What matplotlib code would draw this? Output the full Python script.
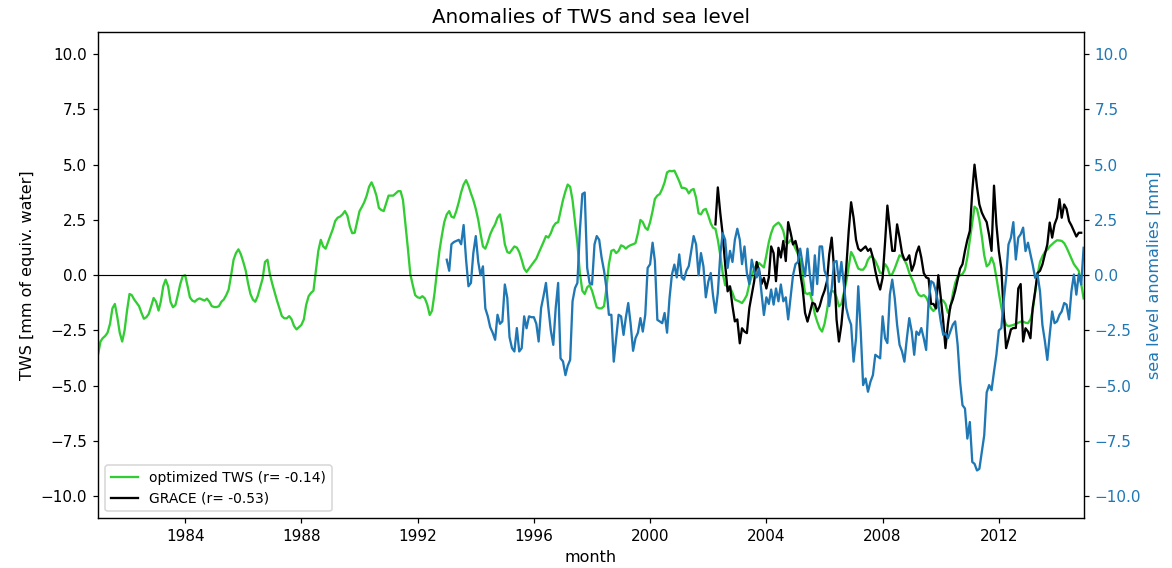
import matplotlib
matplotlib.use('Agg')
import matplotlib.pyplot as plt
import matplotlib.dates as mdates
from matplotlib.ticker import MultipleLocator
import pandas as pd

# ---------------- data (monthly anomalies) ----------------
tws_start = '1981-01-01'
sea_start = '1993-01-01'
grace_start = '2002-04-01'

tws_label = 'optimized TWS (r= -0.14)'
grace_label = 'GRACE (r= -0.53)'

# optimized TWS [mm equiv. water], Jan 1981 - Dec 2014
tws = [
    -3.6, -3.0, -2.85, -2.75, -2.6, -2.2, -1.5, -1.3, -1.9, -2.6, -3.0, -2.5,      # 1981
    -1.6, -0.85, -0.9, -1.1, -1.25, -1.4, -1.7, -1.97, -1.9, -1.75, -1.4, -1.03,   # 1982
    -1.2, -1.6, -1.2, -0.5, -0.2, -0.5, -1.2, -1.45, -1.35, -0.9, -0.4, -0.05,     # 1983
    0.0, -0.5, -1.0, -1.15, -1.2, -1.1, -1.05, -1.1, -1.15, -1.06, -1.2, -1.4,     # 1984
    -1.44, -1.44, -1.4, -1.2, -1.1, -0.9, -0.65, 0.0, 0.7, 1.0, 1.17, 0.95,        # 1985
    0.6, 0.2, -0.35, -0.85, -1.1, -1.2, -0.95, -0.55, -0.15, 0.6, 0.7, 0.05,       # 1986
    -0.4, -0.8, -1.15, -1.5, -1.85, -1.95, -1.95, -1.85, -2.0, -2.3, -2.45, -2.35, # 1987
    -2.25, -2.0, -1.35, -0.95, -0.8, -0.7, 0.2, 1.1, 1.6, 1.3, 1.2, 1.5,           # 1988
    1.8, 2.1, 2.45, 2.6, 2.65, 2.75, 2.9, 2.7, 2.2, 1.9, 1.92, 2.4,                # 1989
    2.9, 3.1, 3.3, 3.6, 4.0, 4.2, 3.95, 3.6, 3.05, 2.95, 2.9, 3.25,                # 1990
    3.6, 3.6, 3.6, 3.7, 3.8, 3.8, 3.4, 2.3, 1.2, 0.05, -0.45, -0.9,                # 1991
    -1.0, -1.03, -0.95, -1.05, -1.33, -1.8, -1.6, -0.8, 0.2, 1.1, 1.8, 2.4,        # 1992
    2.75, 2.9, 2.65, 2.6, 2.9, 3.3, 3.75, 4.1, 4.3, 4.05, 3.7, 3.4,                # 1993
    3.0, 2.5, 1.9, 1.3, 1.2, 1.5, 1.85, 2.1, 2.3, 2.6, 2.75, 2.2,                  # 1994
    1.4, 1.05, 1.0, 1.15, 1.3, 1.25, 1.05, 0.7, 0.3, 0.15, 0.3, 0.45,              # 1995
    0.6, 0.75, 1.0, 1.25, 1.5, 1.77, 1.7, 1.9, 2.2, 2.35, 2.4, 2.9,                # 1996
    3.4, 3.8, 4.1, 4.0, 3.4, 2.4, 1.45, 0.1, -0.7, -0.85, -0.55, -0.45,            # 1997
    -0.7, -1.1, -1.45, -1.5, -1.5, -1.4, -0.6, 0.5, 1.1, 1.15, 1.0, 1.1,           # 1998
    1.35, 1.3, 1.2, 1.3, 1.36, 1.4, 1.45, 1.9, 2.5, 2.4, 2.15, 2.05,               # 1999
    2.4, 2.9, 3.45, 3.6, 3.67, 3.9, 4.2, 4.65, 4.72, 4.7, 4.73, 4.5,               # 2000
    4.25, 3.95, 3.95, 3.9, 3.7, 3.85, 3.9, 3.5, 2.8, 2.75, 2.95, 3.0,              # 2001
    2.7, 2.35, 2.15, 2.1, 1.6, 0.9, 0.1, -0.45, -0.5, -0.55, -0.8, -1.1,           # 2002
    -1.15, -1.2, -1.26, -1.1, -0.9, -0.4, -0.05, 0.3, 0.45, 0.55, 0.45, 0.35,      # 2003
    0.9, 1.5, 1.9, 2.2, 2.3, 2.38, 2.25, 2.0, 1.5, 1.45, 1.6, 1.45,                # 2004
    1.2, 0.95, 0.7, 0.0, -0.8, -0.85, -0.8, -1.2, -1.75, -2.1, -2.4, -2.55,        # 2005
    -2.2, -1.6, -0.9, -0.7, -0.75, -1.0, -1.41, -1.3, -0.8, -0.3, 0.4, 1.05,       # 2006
    0.85, 0.55, 0.3, 0.25, 0.25, 0.4, 0.7, 0.85, 0.8, 0.65, 0.4, 0.1,              # 2007
    0.1, 0.5, 0.35, 0.0, 0.05, 0.3, 0.6, 0.9, 0.85, 0.7, 0.45, 0.1,                # 2008
    -0.15, -0.4, -0.7, -0.9, -0.95, -0.9, -1.0, -1.25, -1.5, -1.62, -1.5, -1.35,   # 2009
    -1.1, -1.15, -1.3, -1.7, -1.5, -0.85, -0.35, -0.05, 0.0, 0.05, 0.25, 0.8,      # 2010
    1.6, 2.4, 3.1, 3.0, 2.5, 1.75, 0.9, 0.4, 0.5, 0.8, 0.5, -0.1,                  # 2011
    -0.8, -1.45, -1.95, -2.25, -2.3, -2.28, -2.25, -2.2, -2.15, -2.1, -2.1, -2.15, # 2012
    -2.17, -2.0, -1.6, -0.8, 0.0, 0.6, 0.85, 1.05, 1.15, 1.3, 1.4, 1.5,            # 2013
    1.58, 1.57, 1.55, 1.45, 1.25, 1.0, 0.75, 0.5, 0.35, 0.2, -0.4, -1.05,          # 2014
]

# sea level anomalies [mm], Jan 1993 - Dec 2014
sea = [
    0.7, 0.2, 1.4, 1.5, 1.55, 1.6, 1.4, 2.27, 0.7, -0.5, -0.35, 1.0,               # 1993
    1.77, 0.6, 0.0, 0.4, -1.5, -1.86, -2.35, -2.6, -2.92, -1.79, -2.2, -2.09,      # 1994
    -0.42, -1.03, -2.8, -3.3, -3.45, -2.39, -3.45, -3.3, -1.86, -2.4, -1.86, -1.9, # 1995
    -1.9, -2.2, -3.0, -1.48, -0.95, -0.35, -1.48, -2.5, -3.15, -1.5, -0.35, -3.76, # 1996
    -3.9, -4.52, -4.1, -3.83, -1.18, -0.58, -0.35, 2.0, 3.67, 3.74, 0.33, -0.35,   # 1997
    -0.42, 1.39, 1.77, 1.6, 0.8, 0.2, -0.58, -1.79, -1.79, -3.91, -2.85, -1.79,    # 1998
    -1.86, -2.7, -1.94, -1.26, -2.2, -3.42, -2.85, -2.6, -1.94, -2.55, -1.79, 0.33,# 1999
    0.5, 1.47, 0.64, -2.02, -2.09, -2.17, -1.71, -2.6, -1.03, 0.03, 0.48, -0.1,    # 2000
    0.94, -0.1, -0.2, 0.2, 0.41, 1.09, 1.77, 1.39, 0.0, 1.0, 0.4, -1.0,            # 2001
    -0.3, 0.1, -0.9, -1.7, -0.8, 0.94, 1.9, 1.6, 0.33, 1.1, 0.6, 1.6,              # 2002
    2.1, 1.6, 0.5, 1.3, 0.1, -0.4, 0.7, 0.2, -0.1, 0.3, -0.8, -1.8,                # 2003
    -1.0, -1.3, -0.65, -1.33, -0.6, -1.18, -0.42, -1.18, -1.0, -2.0, -1.0, 0.0,    # 2004
    0.5, 0.6, 1.2, 0.5, -0.05, 1.2, 0.0, -0.9, 0.9, -0.4, 1.3, 1.3,                # 2005
    0.2, -0.1, -1.4, -0.6, 0.6, 0.64, -0.3, 0.6, -0.42, -1.48, -1.94, -2.24,       # 2006
    -3.91, -2.85, -0.5, -2.55, -4.97, -4.67, -5.27, -4.82, -4.52, -3.6, -3.68, -3.76, # 2007
    -1.86, -2.85, -3.07, -0.88, -0.2, -1.03, -2.24, -3.15, -3.45, -3.91, -2.85, -1.94, # 2008
    -2.55, -3.6, -2.55, -2.7, -2.39, -2.85, -3.38, -1.18, -0.27, -0.35, -0.73, -1.33,  # 2009
    -2.09, -2.7, -2.62, -2.85, -2.55, -2.24, -2.09, -3.15, -4.82, -5.88, -6.03, -7.39, # 2010
    -6.64, -8.45, -8.53, -8.83, -8.76, -8.0, -7.24, -5.3, -4.97, -5.2, -4.36, -3.6,    # 2011
    -2.5, -2.39, -1.18, -0.12, 1.39, 1.7, 2.4, 0.71, 1.7, 1.85, 2.15, 1.09,        # 2012
    1.47, 0.94, 0.48, -0.12, 0.03, -0.73, -2.24, -2.97, -3.83, -2.7, -1.64, -2.17, # 2013
    -2.09, -1.79, -1.64, -1.26, -1.33, -2.0, -0.73, 0.03, -0.88, 0.05, -0.42, 1.24,# 2014
]

# GRACE TWS [mm equiv. water], Apr 2002 - Nov 2014
grace = [
    2.3, 3.97, 2.8, 1.85, 0.5, -0.73, -0.5, -1.4, -2.09,                          # 2002
    -2.0, -3.08, -2.4, -2.55, -2.62, -1.48, -0.88, -0.27, 0.6, 0.2, -0.4, -0.12,  # 2003
    -0.6, -0.1, 1.3, 1.0, -0.27, 1.24, 0.8, 1.55, 0.64, 2.4, 1.92, 1.39,          # 2004
    1.55, 1.09, 0.1, -0.6, -1.7, -2.1, -1.7, -1.25, -1.3, -1.64, -1.4, -1.0,      # 2005
    -0.7, -0.27, 0.94, 1.7, 0.3, -2.0, -3.0, -2.24, -1.0, 0.33, 2.0, 3.3,         # 2006
    2.6, 1.6, 1.2, 1.1, 1.2, 1.3, 1.1, 1.2, 0.8, 0.2, -0.3, -0.65,                # 2007
    -0.12, 1.5, 3.15, 2.1, 1.1, 1.1, 2.3, 1.7, 1.0, 0.7, 0.7, 0.9,                # 2008
    0.2, 0.5, 1.0, 1.3, 0.8, 0.1, -0.1, -0.15, -1.3, -1.3, -1.5, 0.0,             # 2009
    -1.0, -2.1, -3.3, -2.2, -1.4, -1.1, -0.7, -0.2, 0.3, 0.5, 1.1, 1.6,           # 2010
    2.0, 3.8, 5.0, 4.0, 3.2, 2.83, 2.6, 2.4, 1.8, 1.1, 4.05, 2.3,                 # 2011
    1.09, 0.3, -1.64, -3.3, -2.9, -2.45, -2.39, -2.39, -0.6, -0.4, -3.0, -2.4,    # 2012
    -2.55, -2.85, -1.48, -0.73, 0.1, 0.2, 0.48, 0.94, 1.39, 2.38, 1.7, 2.3,       # 2013
    2.6, 3.44, 2.6, 3.2, 3.0, 2.45, 2.25, 2.0, 1.75, 1.92, 1.92,                  # 2014
]

tws_dates = pd.date_range(tws_start, periods=len(tws), freq='MS')
sea_dates = pd.date_range(sea_start, periods=len(sea), freq='MS')
grace_dates = pd.date_range(grace_start, periods=len(grace), freq='MS')

# ---------------- figure ----------------
W, H, DPI = 1172, 568, 110
fig = plt.figure(figsize=(W / DPI, H / DPI), dpi=DPI)
ax = fig.add_axes([98 / W, 1 - 518.4 / H, (1083.6 - 98) / W, (518.4 - 32) / H])

ax.plot(tws_dates, tws, color='limegreen', lw=1.5, label=tws_label)
ax.plot(grace_dates, grace, color='black', lw=1.5, label=grace_label)
ax.axhline(0, color='black', lw=0.75)

ax.set_xlim(tws_dates[0], tws_dates[-1])
ax.set_ylim(-11, 11)
ax.yaxis.set_major_locator(MultipleLocator(2.5))
ax.xaxis.set_major_locator(mdates.YearLocator(4))
ax.xaxis.set_major_formatter(mdates.DateFormatter('%Y'))
ax.set_ylabel('TWS [mm of equiv. water]', fontsize=10.5)
ax.set_xlabel('month', fontsize=10.5)
ax.set_title('Anomalies of TWS and sea level', fontsize=13)
ax.legend(loc='lower left', fontsize=9.1)

ax2 = ax.twinx()
ax2.plot(sea_dates, sea, color='tab:blue', lw=1.5)
ax2.set_ylim(-11, 11)
ax2.yaxis.set_major_locator(MultipleLocator(2.5))
ax2.set_ylabel('sea level anomalies [mm]', color='tab:blue', fontsize=10.5)
ax2.tick_params(axis='y', labelcolor='tab:blue')

fig.savefig('out.png', dpi=DPI)
